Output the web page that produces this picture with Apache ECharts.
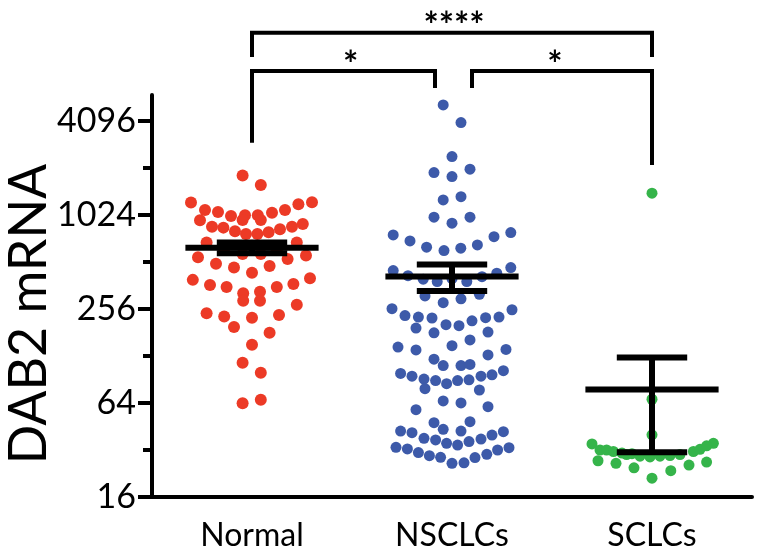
<!DOCTYPE html>
<html>
<head>
<meta charset="utf-8">
<script src="https://cdn.jsdelivr.net/npm/echarts@6/dist/echarts.min.js"></script>
<style>
html,body{margin:0;padding:0;background:#fff;}
#chart{width:764px;height:555px;}
</style>
</head>
<body>
<div id="chart"></div>
<script>
// ---- Data ----
const categories = ['Normal', 'NSCLCs', 'SCLCs'];
const yMajorTicks = [16, 64, 256, 1024, 4096];
const yMinorTicks = [32, 128, 512, 2048];
const yName = 'DAB2 mRNA';

// beeswarm horizontal offsets (category units) and values
const normalOffsets = [-0.047,0.044,-0.305,-0.235,-0.17,-0.105,-0.035,-0.047,0.029,0.044,0.1,0.165,0.232,0.3,
  -0.26,-0.2,-0.143,-0.085,-0.03,0.027,0.083,0.14,0.2,0.254,-0.227,0.224,-0.27,-0.18,-0.09,0,0.088,0.178,0.27,
  -0.296,-0.21,-0.127,-0.044,-0.044,0.04,0.04,0.124,0.207,0.29,-0.227,-0.139,-0.09,0,0.135,0.224,0.088,0,
  -0.047,0.044,-0.047,0.044,-0.14,-0.047,0.044,0.124,0];
const normalValues = [1829,1594,1228,1102,1070,1009,1019,951,1019,951,1059,1102,1199,1235,
  946,861,849,805,774,774,794,830,861,897,681,681,549,499,471,437,483,535,562,
  393,365,354,323,289,330,289,354,370,403,240,229,196,225,234,272,180,151,
  116,100,63.7,67,611,576,576,611,650];

const nsclcOffsets = [-0.044,0.045,0,-0.09,0,0.09,-0.044,0.045,-0.09,0,0.09,
  -0.294,-0.21,-0.127,-0.04,0.044,0.127,0.21,0.294,
  -0.294,-0.22,-0.144,-0.074,0.074,0.15,0.224,0.294,
  -0.135,-0.044,0.045,0.137,-0.3,-0.235,-0.168,-0.1,-0.03,0.035,0.1,0.168,0.235,0.3,
  -0.18,-0.09,0.09,0.18,-0.27,-0.18,0,0.27,-0.09,-0.044,0.045,0.09,0.18,
  -0.257,-0.2,-0.14,-0.082,-0.027,0.028,0.085,0.145,0.2,0.257,
  -0.135,0.137,-0.044,0.045,-0.18,0.18,-0.09,0.09,
  -0.257,-0.2,-0.044,0.045,-0.14,-0.082,-0.027,0.028,0.085,0.145,0.2,0.257,
  -0.28,-0.223,-0.168,-0.113,-0.057,0,0.06,0.115,0.174,0.228,0.285,0];
const nsclcValues = [5186,3994,2419,1911,1802,2009,1278,1341,990,906,990,
  762,698,636,605,627,658,743,789,
  451,418,397,383,383,412,434,471,
  310,281,297,318,257,232,227,224,203,200,215,225,227,253,
  193,180,162,182,146,140,149,141,122,111,111,113,130,
  99,95,91,89,85,89,90,95,97,103,
  79,77.5,66,64,58,60.6,47.9,48.6,
  42.3,41.3,43.4,42.3,38,37.1,35.3,34.4,36.2,37.6,39.9,41.9,
  33.3,32.5,30.8,29.4,28.7,26.3,26.5,28.6,30,32,33.1,400];

const sclcOffsets = [0,0,0,-0.3,0.307,-0.26,-0.227,-0.193,-0.15,-0.127,-0.1,-0.06,-0.01,0.04,0.09,0.14,0.207,0.24,0.273,
  -0.27,-0.18,-0.09,0,0.094,0.185,0.273];
const sclcValues = [1410,67.6,40,35,35.3,32,32,31.3,30.6,29.9,30.3,29.2,28.9,29.2,29.5,29.9,31.3,32.3,34,
  27.3,26.3,24.6,21.1,23.6,25.6,26.8];

// group means and SEM
const groupMeans = [632, 413, 78];
const groupSems = [50, 80, 47];

// significance brackets
const sigLabels = ['****', '*', '*'];
const bracketStart = [0, 0, 1.1];
const bracketEnd = [2, 0.915, 2];
const bracketLevel = [15000, 8560, 8560];
const bracketStartDrop = [10525, 2963, 6662];
const bracketEndDrop = [10525, 6662, 2141];
const sigLabelX = [1.01, 0.4935, 1.515];

const colors = ['#EC3A26', '#3D5AA9', '#35B44A'];
const FONT = 'Lato';

// ---- Build series ----
function pts(offsets, values, gi) {
  return values.map((v, i) => [gi + offsets[i], v]);
}
const groups = [
  pts(normalOffsets, normalValues, 0),
  pts(nsclcOffsets, nsclcValues, 1),
  pts(sclcOffsets, sclcValues, 2)
];
const sizes = [12, 11, 11];

const series = groups.map((d, gi) => ({
  type: 'scatter',
  xAxisIndex: 1,
  yAxisIndex: 0,
  data: d,
  symbol: 'circle',
  symbolSize: sizes[gi],
  itemStyle: { color: colors[gi], opacity: 1 },
  emphasis: { disabled: true },
  silent: true,
  z: 2
}));

series.push({
  type: 'custom',
  xAxisIndex: 1,
  yAxisIndex: 0,
  silent: true,
  z: 5,
  clip: false,
  data: groupMeans.map((m, i) => [i, m, groupSems[i]]),
  renderItem: function (params, api) {
    const x = api.value(0), m = api.value(1), s = api.value(2);
    const ml = api.coord([x - 0.333, m]);
    const mr = api.coord([x + 0.333, m]);
    const hi = api.coord([x, m + s]);
    const lo = api.coord([x, m - s]);
    const capL = api.coord([x - 0.176, m])[0];
    const capR = api.coord([x + 0.176, m])[0];
    const st = { stroke: '#000', lineWidth: 6, lineCap: 'butt' };
    return {
      type: 'group',
      children: [
        { type: 'line', shape: { x1: ml[0], y1: ml[1], x2: mr[0], y2: mr[1] }, style: st },
        { type: 'line', shape: { x1: hi[0], y1: hi[1], x2: lo[0], y2: lo[1] }, style: st },
        { type: 'line', shape: { x1: capL, y1: hi[1], x2: capR, y2: hi[1] }, style: st },
        { type: 'line', shape: { x1: capL, y1: lo[1], x2: capR, y2: lo[1] }, style: st }
      ]
    };
  }
});

series.push({
  type: 'custom',
  xAxisIndex: 1,
  yAxisIndex: 0,
  silent: true,
  z: 6,
  clip: false,
  data: sigLabels.map((l, i) => [bracketStart[i], bracketEnd[i], bracketLevel[i], bracketStartDrop[i], bracketEndDrop[i], sigLabelX[i]]),
  renderItem: function (params, api) {
    const i = params.dataIndex;
    const x1 = api.value(0), x2 = api.value(1), lv = api.value(2);
    const a = api.coord([x1, api.value(3)]);
    const b = api.coord([x1, lv]);
    const c = api.coord([x2, lv]);
    const d = api.coord([x2, api.value(4)]);
    const t = api.coord([api.value(5), lv]);
    return {
      type: 'group',
      children: [
        { type: 'polyline', shape: { points: [a, b, c, d] },
          style: { stroke: '#000', lineWidth: 4, fill: null, lineJoin: 'miter' } },
        { type: 'text', x: t[0], y: t[1] - 6,
          style: { text: sigLabels[i], fontFamily: FONT, fontSize: 36, fontWeight: 'bold',
                   fill: '#000', align: 'center', verticalAlign: 'middle' } }
      ]
    };
  }
});

const yCommon = {
  type: 'log',
  logBase: 2,
  min: 16,
  max: 6000,
  position: 'left',
  splitLine: { show: false },
  minorTick: { show: false },
  minorSplitLine: { show: false }
};

const option = {
  animation: false,
  backgroundColor: '#ffffff',
  grid: { left: 152, right: 12, top: 95, bottom: 58, containLabel: false, outerBoundsMode: 'none' },
  xAxis: [
    {
      type: 'category',
      data: categories,
      boundaryGap: true,
      axisLine: { onZero: false, lineStyle: { color: '#000', width: 4 } },
      axisTick: { alignWithLabel: true, length: 14, lineStyle: { color: '#000', width: 4 } },
      axisLabel: { color: '#000', fontFamily: FONT, fontSize: 32, margin: 23 },
      splitLine: { show: false }
    },
    { type: 'value', min: -0.5, max: 2.5, show: false }
  ],
  yAxis: [
    Object.assign({}, yCommon, {
      name: yName,
      nameLocation: 'middle',
      nameRotate: 90,
      nameGap: 97,
      nameMoveOverlap: false,
      nameTextStyle: { color: '#000', fontFamily: FONT, fontSize: 52, padding: [0, 36, 0, 0] },
      axisLine: { show: true, onZero: false, lineStyle: { color: '#000', width: 4 } },
      axisTick: { show: true, length: 14, customValues: yMajorTicks, lineStyle: { color: '#000', width: 4 } },
      axisLabel: { show: true, customValues: yMajorTicks, color: '#000', fontFamily: FONT, fontSize: 34, margin: 16,
                   formatter: v => String(Math.round(v)) }
    }),
    Object.assign({}, yCommon, {
      axisLine: { show: false, onZero: false },
      axisTick: { show: true, length: 9, customValues: yMinorTicks, lineStyle: { color: '#000', width: 4 } },
      axisLabel: { show: false }
    })
  ],
  series: series
};

const chart = echarts.init(document.getElementById('chart'), null, { renderer: 'canvas' });
chart.setOption(option);
</script>
</body>
</html>
